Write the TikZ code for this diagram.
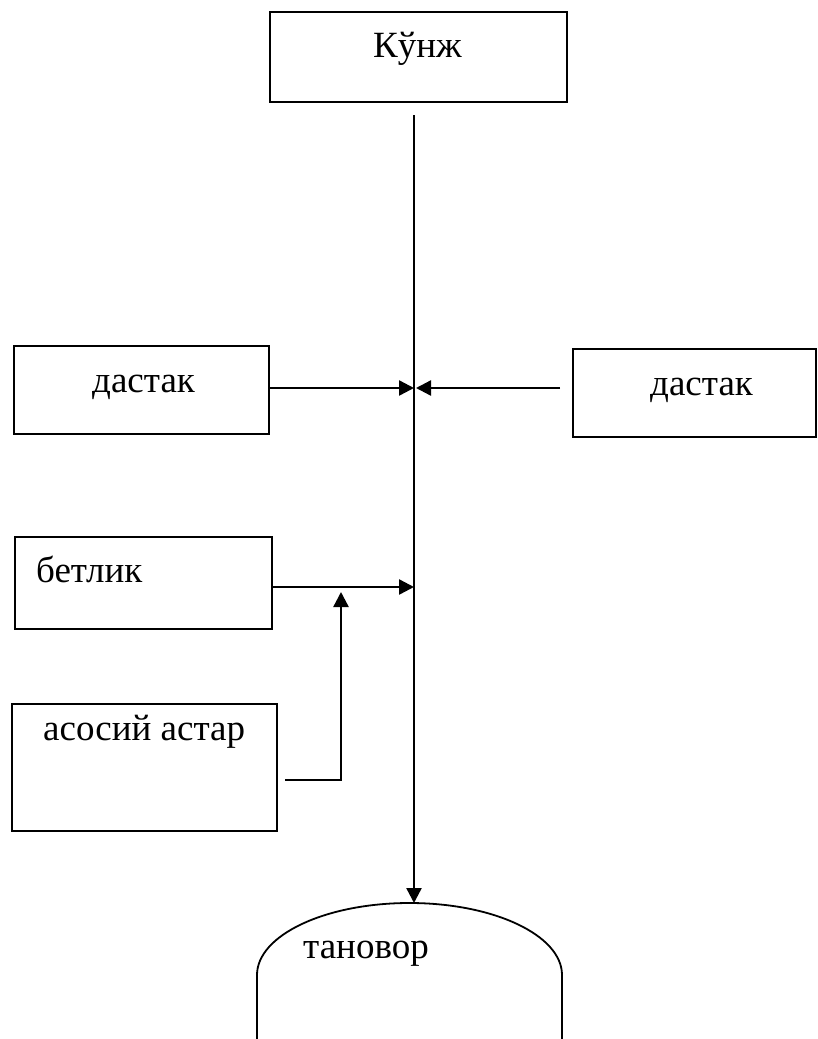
\documentclass[tikz,border=0pt]{standalone}
\usepackage{fontspec}
\setmainfont{Liberation Serif}
\usetikzlibrary{arrows.meta}
\begin{document}
\begin{tikzpicture}[x=1pt,y=-1pt,
  box/.style={draw,rectangle,line width=1.8pt,inner sep=0pt},
  lbl/.style={anchor=base west,inner sep=0pt,font=\fontsize{37pt}{40pt}\selectfont},
  conn/.style={line width=2.4pt},
  arr/.style={conn,-{Triangle[length=15pt,width=15pt]}}]
\useasboundingbox (0,0) rectangle (817,1039);
% boxes
\node[box,minimum width=297pt,minimum height=90pt] (top) at (418.5,57) {};
\node[box,minimum width=255pt,minimum height=88pt] (dL) at (141.5,390) {};
\node[box,minimum width=243pt,minimum height=88pt] (dR) at (694.5,393) {};
\node[box,minimum width=257pt,minimum height=92pt] (bet) at (143.5,583) {};
\node[box,minimum width=265pt,minimum height=127pt] (aso) at (144.5,767.5) {};
% labels
\node[lbl] (tTop) at (373,57) {Кўнж};
\node[lbl] (tdL) at (92,392) {дастак};
\node[lbl] (tdR) at (650,395) {дастак};
\node[lbl] (tbet) at (36,582) {бетлик};
\node[lbl] (taso) at (43,740) {асосий астар};
\node[lbl] (ttan) at (303,958) {тановор};
% tanovor shape
\draw[line width=1.8pt] (257,1040) -- (257,975) arc[start angle=180,end angle=0,x radius=152.5pt,y radius=72pt] -- (562,1040);
% coordinates
\coordinate (vtop) at (414,115);
\coordinate (tantop) at (414,903);
\coordinate (jL) at (414,388);
\coordinate (rS) at (560,388);
\coordinate (rE) at (416,388);
\coordinate (jB) at (414,587);
\coordinate (aS) at (285,780);
\coordinate (aE) at (341,592);
% connectors
\draw[arr] (vtop) -- (tantop);
\draw[arr] (dL.east |- jL) -- (jL);
\draw[arr] (rS) -- (rE);
\draw[arr] (bet.east |- jB) -- (jB);
\draw[arr] (aS) -| (aE);
\end{tikzpicture}
\end{document}
